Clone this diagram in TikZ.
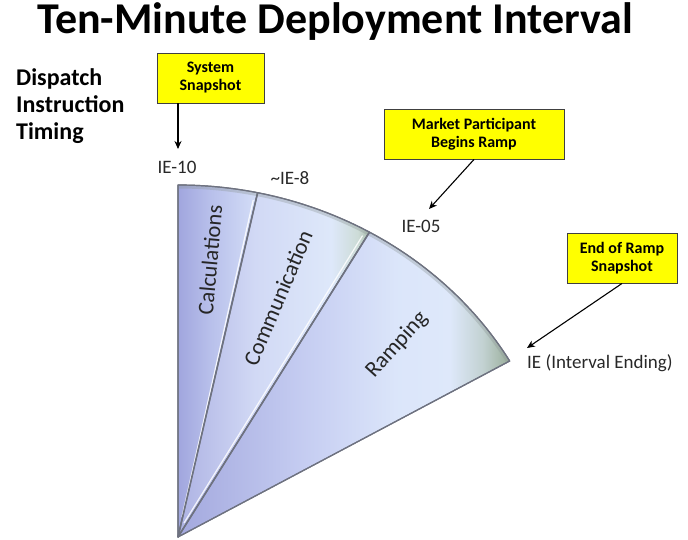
\documentclass[tikz,border=0pt]{standalone}
\usepackage{fontspec}
\setmainfont{Carlito}
\usetikzlibrary{arrows.meta}
\definecolor{boxyellow}{RGB}{255,255,0}
\definecolor{wedgeEdge}{RGB}{110,114,128}
\definecolor{rimgray}{RGB}{140,150,150}
\definecolor{txt}{RGB}{40,40,40}
\pgfdeclarehorizontalshading{calcshade}{100bp}{
  rgb(0bp)=(0.63,0.65,0.87); rgb(25bp)=(0.63,0.65,0.87); rgb(45bp)=(0.72,0.75,0.92); rgb(75bp)=(0.83,0.87,0.97); rgb(100bp)=(0.83,0.87,0.97)}
\pgfdeclarehorizontalshading{commshade}{100bp}{
  rgb(0bp)=(0.68,0.70,0.89); rgb(25bp)=(0.68,0.70,0.89); rgb(45bp)=(0.82,0.85,0.96); rgb(65bp)=(0.87,0.91,0.98); rgb(72bp)=(0.80,0.86,0.84); rgb(75bp)=(0.66,0.74,0.68); rgb(100bp)=(0.66,0.74,0.68)}
\pgfdeclarehorizontalshading{rampshade}{100bp}{
  rgb(0bp)=(0.64,0.66,0.87); rgb(25bp)=(0.64,0.66,0.87); rgb(45bp)=(0.78,0.81,0.95); rgb(58bp)=(0.86,0.90,0.98); rgb(66bp)=(0.87,0.91,0.98); rgb(71bp)=(0.76,0.82,0.82); rgb(75bp)=(0.60,0.68,0.60); rgb(100bp)=(0.60,0.68,0.60)}
\begin{document}
\begin{tikzpicture}[x=1pt,y=-1pt,
  callout/.style={draw=black!75,line width=0.9pt,fill=boxyellow,font=\fontsize{16}{18}\selectfont\bfseries,
    align=center,inner sep=0pt,minimum height=50pt,text=black},
  tick/.style={font=\fontsize{19}{21}\selectfont,text=txt,inner sep=0pt},
  wedgelabel/.style={font=\fontsize{22.5}{25}\selectfont,text=black!85,inner sep=0pt},
  wedge/.style={draw=wedgeEdge,line width=1.2pt,line join=round},
  pointer/.style={-{Stealth[length=8pt,width=7pt]},line width=1.1pt,black}]
\useasboundingbox (0,0) rectangle (688,539);
\node[font=\fontsize{44}{48}\selectfont\bfseries,inner sep=0pt] (title) at (335,22) {Ten-Minute Deployment Interval};
\node[font=\fontsize{24}{27}\selectfont\bfseries,align=left,anchor=north west,inner sep=0pt] (side) at (16,68) {Dispatch\\Instruction\\Timing};
% wedges
\begin{scope}[shift={(178,537)},yscale=-1]
  \coordinate (apex) at (0,0);
  \path[wedge,shading=calcshade]
    (0,0) -- (90:383 and 352) arc[start angle=90,end angle=78,x radius=383,y radius=352] -- cycle;
  \path[wedge,shading=commshade]
    (0,0) -- (78:383 and 352) arc[start angle=78,end angle=60,x radius=383,y radius=352] -- cycle;
  \path[wedge,shading=rampshade]
    (0,0) -- (60:383 and 352) arc[start angle=60,end angle=30,x radius=383,y radius=352] -- cycle;
  % rim along the arc
  \begin{scope}
    \clip (0,0) -- (90:383 and 352) arc[start angle=90,end angle=30,x radius=383,y radius=352] -- cycle;
    \draw[rimgray,opacity=0.35,line width=7pt] (90:383 and 352) arc[start angle=90,end angle=30,x radius=383,y radius=352];
  \end{scope}
  % highlights and dividers
  \draw[white,line width=1.2pt,opacity=0.85] (4,20) -- (78.4:374 and 344);
  \draw[white,line width=1.2pt,opacity=0.85] (6,14) -- (60.6:376 and 346);
  \draw[wedgeEdge,line width=1.6pt] (0,0) -- (78:383 and 352);
  \draw[wedgeEdge,line width=1.6pt] (0,0) -- (60:383 and 352);
  \draw[wedgeEdge,line width=1.2pt,line join=round] (0,0) -- (90:383 and 352) arc[start angle=90,end angle=30,x radius=383,y radius=352] -- cycle;
\end{scope}
\node[wedgelabel,rotate=85] (calc) at (210,260) {Calculations};
\node[wedgelabel,rotate=67] (comm) at (278,298) {Communication};
\node[wedgelabel,rotate=48] (ramp) at (397,345) {Ramping};
% tick labels
\node[tick] (ie10) at (177,167) {IE-10};
\node[tick] (ie8) at (290,178) {\textasciitilde IE-8};
\node[tick] (ie05) at (421,226) {IE-05};
\node[tick,anchor=west] (ie) at (527,363) {IE (Interval Ending)};
% callouts
\node[callout,minimum width=107pt] (sys) at (210.5,78) {System\\Snapshot};
\node[callout,minimum width=180pt] (mkt) at (474,134) {Market Participant\\Begins Ramp};
\node[callout,minimum width=110pt] (end) at (622,258) {End of Ramp\\Snapshot};
\coordinate (sysFrom) at (178,103);
\coordinate (sysTo) at (178,149);
\draw[pointer] (sysFrom) -- (sysTo);
\coordinate (mktTo) at (429,209);
\draw[pointer] (mkt.south) -- (mktTo);
\coordinate (endTo) at (527,348);
\draw[pointer] (end.south) -- (endTo);
\end{tikzpicture}
\end{document}
